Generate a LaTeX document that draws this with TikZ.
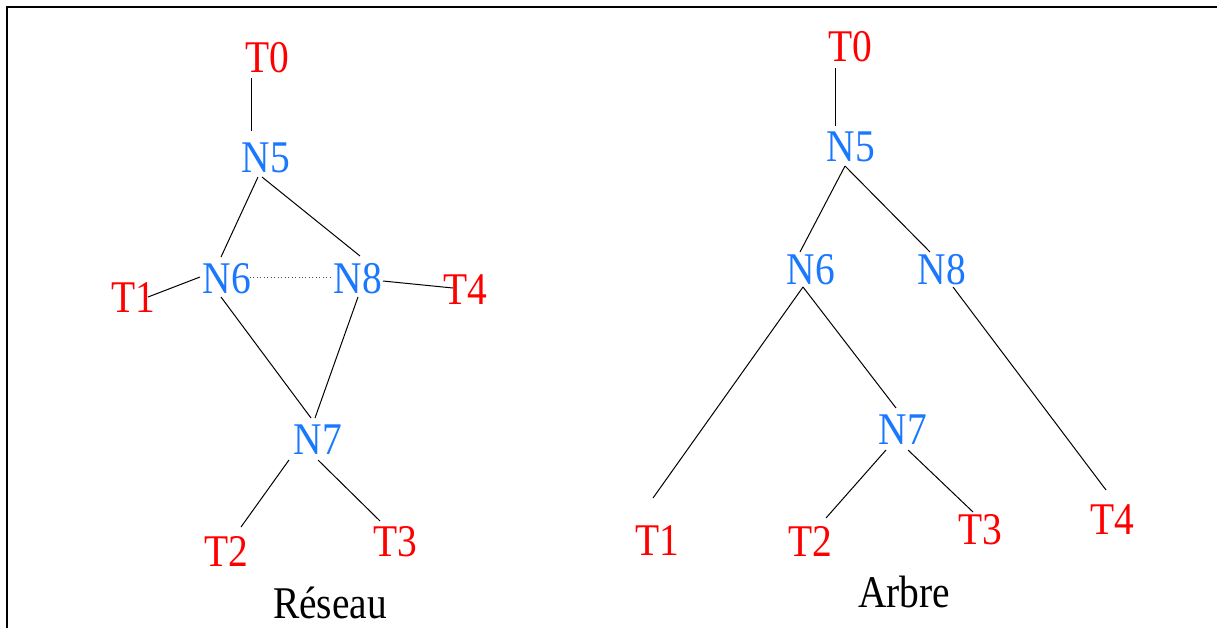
\documentclass[tikz,border=0pt]{standalone}
\usepackage{fontspec}
\setmainfont{Liberation Serif}[FakeStretch=0.87]
\usetikzlibrary{positioning}
\definecolor{rterm}{HTML}{FF0000}
\definecolor{bnoeud}{HTML}{1A78FF}
\tikzset{
  % terminaux et noeuds
  term/.style={inner sep=0pt, text=rterm, font=\fontsize{34}{40}\selectfont},
  noeud/.style={inner sep=0pt, text=bnoeud, font=\fontsize{34}{40}\selectfont},
  titre/.style={inner sep=0pt, font=\fontsize{34}{40}\selectfont},
  % liaisons
  lien/.style={line width=0.75pt, black},
  lienpt/.style={line width=0.6pt, black!70, dotted},
  cadre/.style={line width=1.5pt, black},
}

\begin{document}
\begin{tikzpicture}[x=0.75pt, y=-0.75pt]
  \useasboundingbox (0,0) rectangle (1217,628);
  \draw[cadre] (7,628) -- (7,7) -- (1217,7);
  % Réseau
  \begin{scope}
    \node[term] (lT0) at (267,58) {T0};
    \node[noeud] (lN5) at (266,158) {N5};
    \node[noeud] (lN6) at (227,279) {N6};
    \node[noeud] (lN8) at (358,279) {N8};
    \node[term] (lT1) at (133,298) {T1};
    \node[term] (lT4) at (465,290) {T4};
    \node[noeud] (lN7) at (318,440) {N7};
    \node[term] (lT2) at (226,551) {T2};
    \node[term] (lT3) at (395,542) {T3};
    \node[titre] (lnom) at (330,603) {Réseau};
    \draw[lien] ([shift={(-16,20)}]lT0.center) -- ([shift={(-15,-27)}]lN5.center);
    \draw[lien] ([shift={(-8,19)}]lN5.center) -- ([shift={(-6,-22)}]lN6.center);
    \draw[lien] ([shift={(-4,19)}]lN5.center) -- ([shift={(2,-23)}]lN8.center);
    \draw[lien] ([shift={(15,-1)}]lT1.center) -- ([shift={(-27,-2)}]lN6.center);
    \draw[lienpt] ([shift={(23,-2)}]lN6.center) -- ([shift={(-28,-2)}]lN8.center);
    \draw[lien] ([shift={(25,2)}]lN8.center) -- ([shift={(-12,-2)}]lT4.center);
    \draw[lien] ([shift={(-6,18)}]lN6.center) -- ([shift={(-7,-22)}]lN7.center);
    \draw[lien] ([shift={(0,18)}]lN8.center) -- ([shift={(-3,-22)}]lN7.center);
    \draw[lien] ([shift={(-29,20)}]lN7.center) -- ([shift={(15,-24)}]lT2.center);
    \draw[lien] ([shift={(0,20)}]lN7.center) -- ([shift={(-15,-21)}]lT3.center);
  \end{scope}
  % Arbre
  \begin{scope}
    \node[term] (rT0) at (850,47) {T0};
    \node[noeud] (rN5) at (851,147) {N5};
    \node[noeud] (rN6) at (811,270) {N6};
    \node[noeud] (rN8) at (942,270) {N8};
    \node[noeud] (rN7) at (903,430) {N7};
    \node[term] (rT1) at (657,541) {T1};
    \node[term] (rT2) at (810,541) {T2};
    \node[term] (rT3) at (980,530) {T3};
    \node[term] (rT4) at (1112,520) {T4};
    \node[titre] (rnom) at (904,592) {Arbre};
    \draw[lien] ([shift={(-15,21)}]rT0.center) -- ([shift={(-16,-21)}]rN5.center);
    \draw[lien] ([shift={(-6,19)}]rN5.center) -- ([shift={(-11,-18)}]rN6.center);
    \draw[lien] ([shift={(-6,19)}]rN5.center) -- ([shift={(-12,-18)}]rN8.center);
    \draw[lien] ([shift={(-8,17)}]rN6.center) -- ([shift={(-4,-43)}]rT1.center);
    \draw[lien] ([shift={(-8,17)}]rN6.center) -- ([shift={(-7,-22)}]rN7.center);
    \draw[lien] ([shift={(11,17)}]rN8.center) -- ([shift={(-6,-30)}]rT4.center);
    \draw[lien] ([shift={(-17,20)}]rN7.center) -- ([shift={(16,-23)}]rT2.center);
    \draw[lien] ([shift={(5,20)}]rN7.center) -- ([shift={(-7,-18)}]rT3.center);
  \end{scope}
\end{tikzpicture}
\end{document}
